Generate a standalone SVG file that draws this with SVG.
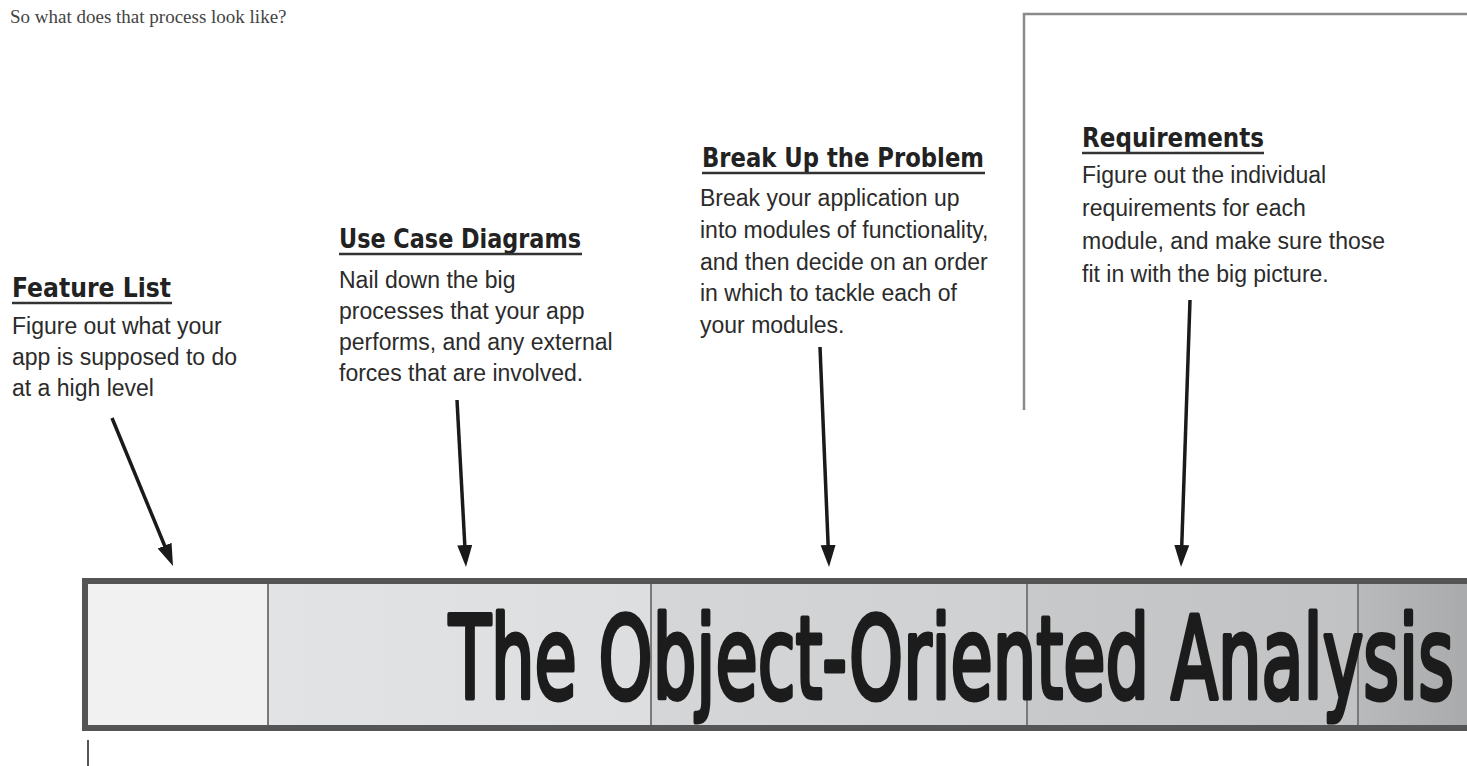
<svg xmlns="http://www.w3.org/2000/svg" width="1467" height="766" viewBox="0 0 1467 766">
<style>
  .intro { font-family: "Liberation Serif", "DejaVu Serif", serif; font-size: 19px; fill: #444; }
  .head { font-family: "DejaVu Sans", "Liberation Sans", sans-serif; font-weight: bold; font-size: 26px; fill: #222; }
  .ul { stroke: #333; stroke-width: 2.5; }
  .body { font-family: "Liberation Sans", Arial, sans-serif; font-size: 23px; fill: #2b2b2b; }
  .arrow { stroke: #1a1a1a; stroke-width: 3.5; fill: none; marker-end: url(#ah); }
  .div { stroke: #7a7a7a; stroke-width: 2; }
  .frame { stroke: #8a8a8a; stroke-width: 2.5; fill: none; }
  .title { font-family: "DejaVu Sans", "Liberation Sans", sans-serif; font-size: 114px; fill: #1c1c1c; stroke: #1c1c1c; stroke-width: 5; stroke-linejoin: round; stroke-linecap: round; }
</style>
<defs>
  <marker id="ah" markerUnits="userSpaceOnUse" markerWidth="24" markerHeight="16" refX="2" refY="7.5" orient="auto">
    <path d="M0,0 L22,7.5 L0,15 z" fill="#1a1a1a"/>
  </marker>
  <linearGradient id="g2" x1="0" x2="1" y1="0" y2="0">
    <stop offset="0" stop-color="#e2e3e4"/>
    <stop offset="1" stop-color="#dddedf"/>
  </linearGradient>
  <linearGradient id="g3" x1="0" x2="1" y1="0" y2="0">
    <stop offset="0" stop-color="#d5d6d8"/>
    <stop offset="1" stop-color="#cfd0d2"/>
  </linearGradient>
  <linearGradient id="g4" x1="0" x2="1" y1="0" y2="0">
    <stop offset="0" stop-color="#c8c9cb"/>
    <stop offset="1" stop-color="#c1c2c4"/>
  </linearGradient>
  <linearGradient id="g5" x1="0" x2="1" y1="0" y2="0">
    <stop offset="0" stop-color="#b9babc"/>
    <stop offset="1" stop-color="#a9aaac"/>
  </linearGradient>
</defs>
<rect x="0" y="0" width="1467" height="766" fill="#ffffff"/>

<text class="intro" x="10" y="23">So what does that process look like?</text>

<path class="frame" d="M1024,410 L1024,14 L1467,14"/>
<line x1="88" y1="740" x2="88" y2="766" stroke="#555" stroke-width="2"/>

<g id="feature-list">
  <text class="head" x="12" y="297" textLength="159" lengthAdjust="spacingAndGlyphs">Feature List</text>
  <line class="ul" x1="12" y1="303" x2="172" y2="303"/>
  <text class="body" x="12" y="334">Figure out what your</text>
  <text class="body" x="12" y="365">app is supposed to do</text>
  <text class="body" x="12" y="396">at a high level</text>
</g>

<g id="use-case-diagrams">
  <text class="head" x="339" y="248" textLength="242" lengthAdjust="spacingAndGlyphs">Use Case Diagrams</text>
  <line class="ul" x1="339" y1="254" x2="582" y2="254"/>
  <text class="body" x="339" y="288">Nail down the big</text>
  <text class="body" x="339" y="319">processes that your app</text>
  <text class="body" x="339" y="350">performs, and any external</text>
  <text class="body" x="339" y="381">forces that are involved.</text>
</g>

<g id="break-up-the-problem">
  <text class="head" x="702" y="167" textLength="282" lengthAdjust="spacingAndGlyphs">Break Up the Problem</text>
  <line class="ul" x1="702" y1="173" x2="985" y2="173"/>
  <text class="body" x="700" y="206">Break your application up</text>
  <text class="body" x="700" y="238">into modules of functionality,</text>
  <text class="body" x="700" y="270">and then decide on an order</text>
  <text class="body" x="700" y="301">in which to tackle each of</text>
  <text class="body" x="700" y="333">your modules.</text>
</g>

<g id="requirements">
  <text class="head" x="1082" y="147" textLength="182" lengthAdjust="spacingAndGlyphs">Requirements</text>
  <line class="ul" x1="1082" y1="153" x2="1264" y2="153"/>
  <text class="body" x="1082" y="183">Figure out the individual</text>
  <text class="body" x="1082" y="216">requirements for each</text>
  <text class="body" x="1082" y="249">module, and make sure those</text>
  <text class="body" x="1082" y="282">fit in with the big picture.</text>
</g>

<g id="ooa-bar">
  <rect x="88" y="584" width="180" height="141" fill="#f1f1f1"/>
  <rect x="268" y="584" width="383" height="141" fill="url(#g2)"/>
  <rect x="651" y="584" width="376" height="141" fill="url(#g3)"/>
  <rect x="1027" y="584" width="331" height="141" fill="url(#g4)"/>
  <rect x="1358" y="584" width="112" height="141" fill="url(#g5)"/>
  <line class="div" x1="268" y1="584" x2="268" y2="725"/>
  <line class="div" x1="651" y1="584" x2="651" y2="725"/>
  <line class="div" x1="1027" y1="584" x2="1027" y2="725"/>
  <line class="div" x1="1358" y1="584" x2="1358" y2="725"/>
  <path d="M1470,581 L85,581 L85,728 L1470,728" fill="none" stroke="#555" stroke-width="6"/>
  <text class="title" x="449" y="698" textLength="1005" lengthAdjust="spacingAndGlyphs">The Object-Oriented Analysis</text>
</g>

<g id="connectors">
  <line class="arrow" x1="112" y1="418" x2="165.4" y2="547.5"/>
  <line class="arrow" x1="457" y1="400" x2="464.9" y2="547"/>
  <line class="arrow" x1="820" y1="347" x2="828.2" y2="547"/>
  <line class="arrow" x1="1190" y1="300" x2="1181.7" y2="547"/>
</g>
</svg>
